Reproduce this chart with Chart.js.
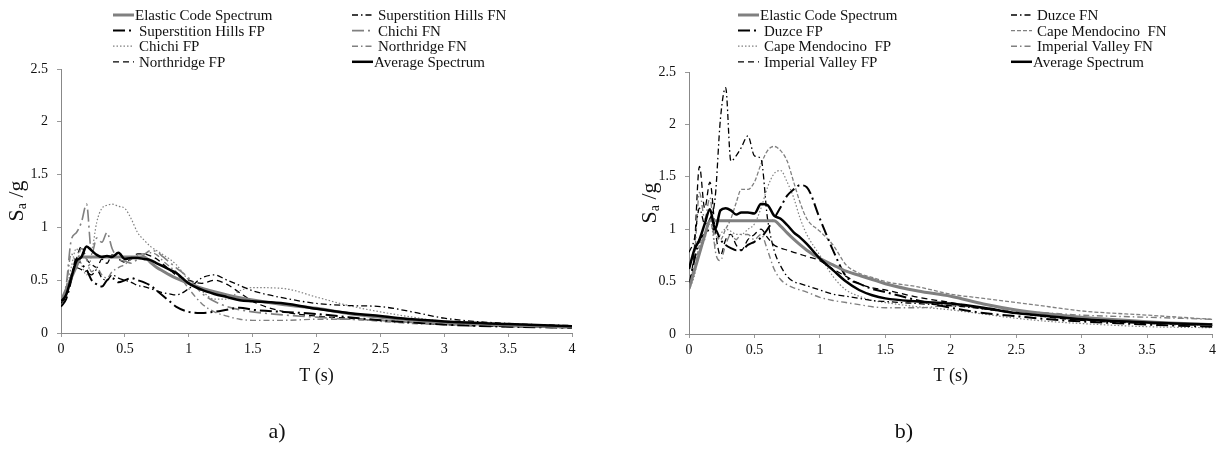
<!DOCTYPE html>
<html>
<head>
<meta charset="utf-8">
<script src="https://cdn.jsdelivr.net/npm/chart.js@4.4.1/dist/chart.umd.min.js"></script>
<style>
body { margin: 0; background: #fff; }
.wrap { position: absolute; top: 0; width: 610px; height: 451px; }
</style>
</head>
<body>
<div class="wrap" style="left:0"><canvas id="chartA" width="610" height="451"></canvas></div>
<div class="wrap" style="left:610px"><canvas id="chartB" width="610" height="451"></canvas></div>
<script>
// periods T (s), shared by every curve
var periods = [0, 0.04, 0.08, 0.12, 0.16, 0.2, 0.24, 0.28, 0.32, 0.36, 0.4, 0.45, 0.5, 0.55, 0.6, 0.65, 0.7, 0.75, 0.8, 0.85, 0.9, 1.0, 1.1, 1.2, 1.3, 1.4, 1.5, 1.75, 2.0, 2.25, 2.5, 2.75, 3.0, 3.5, 4.0]

// a) Sa/g
var elasticA = [0.30,0.41,0.52,0.63,0.72,0.72,0.72,0.72,0.72,0.72,0.72,0.72,0.72,0.72,0.72,0.72,0.67,0.62,0.585,0.55,0.52,0.47,0.425,0.39,0.36,0.334,0.312,0.267,0.234,0.185,0.15,0.124,0.104,0.076,0.058]
var supHillsFN = [0.28,0.35,0.55,0.62,0.60,0.58,0.55,0.60,0.52,0.50,0.55,0.52,0.50,0.48,0.45,0.44,0.42,0.40,0.38,0.37,0.36,0.42,0.52,0.55,0.50,0.45,0.40,0.33,0.28,0.26,0.25,0.20,0.14,0.09,0.07]
var supHillsFP = [0.25,0.32,0.50,0.70,0.65,0.60,0.50,0.46,0.44,0.50,0.52,0.48,0.50,0.52,0.50,0.48,0.45,0.40,0.35,0.30,0.25,0.20,0.19,0.20,0.22,0.24,0.22,0.20,0.18,0.15,0.12,0.10,0.08,0.06,0.05]
var chichiFN = [0.28,0.45,0.88,0.95,1.05,1.22,0.75,0.90,0.86,0.95,0.80,0.70,0.68,0.66,0.70,0.74,0.78,0.77,0.72,0.67,0.62,0.52,0.38,0.30,0.25,0.22,0.20,0.17,0.15,0.13,0.12,0.10,0.09,0.07,0.05]
var chichiFP = [0.30,0.40,0.62,0.80,0.65,0.55,0.75,1.05,1.18,1.21,1.22,1.20,1.18,1.08,0.95,0.88,0.82,0.78,0.74,0.70,0.65,0.50,0.40,0.32,0.32,0.40,0.43,0.42,0.34,0.26,0.20,0.15,0.11,0.08,0.06]
var northridgeFN = [0.30,0.42,0.75,0.68,0.80,0.70,0.58,0.62,0.55,0.52,0.58,0.62,0.65,0.70,0.74,0.75,0.76,0.74,0.68,0.63,0.58,0.42,0.28,0.20,0.16,0.13,0.12,0.12,0.13,0.13,0.11,0.09,0.08,0.06,0.05]
var northridgeFP = [0.32,0.38,0.55,0.70,0.82,0.70,0.65,0.62,0.70,0.66,0.74,0.70,0.67,0.70,0.75,0.75,0.73,0.70,0.65,0.60,0.55,0.50,0.47,0.50,0.46,0.38,0.30,0.20,0.16,0.14,0.12,0.10,0.08,0.06,0.05]
var averageA = [0.30,0.36,0.52,0.68,0.72,0.82,0.78,0.74,0.72,0.73,0.72,0.76,0.70,0.71,0.71,0.70,0.69,0.66,0.63,0.60,0.57,0.47,0.41,0.37,0.34,0.31,0.30,0.28,0.23,0.19,0.16,0.13,0.11,0.085,0.065]

// b) Sa/g
var elasticB = [0.43,0.60,0.77,0.94,1.08,1.08,1.08,1.08,1.08,1.08,1.08,1.08,1.08,1.08,1.08,1.08,1.03,0.965,0.905,0.85,0.80,0.72,0.66,0.60,0.56,0.52,0.48,0.41,0.36,0.286,0.23,0.19,0.16,0.118,0.09]
var duzceFN = [0.78,0.90,1.20,1.05,1.10,1.30,2.05,2.35,1.65,1.70,1.78,1.89,1.70,1.67,1.10,0.80,0.65,0.55,0.50,0.48,0.46,0.42,0.38,0.36,0.34,0.32,0.31,0.29,0.27,0.24,0.20,0.17,0.15,0.11,0.08]
var duzceFP = [0.45,0.70,0.90,0.95,1.00,1.00,0.90,0.85,0.82,0.80,0.80,0.85,0.88,0.92,1.00,1.10,1.21,1.32,1.38,1.42,1.40,1.10,0.80,0.55,0.48,0.43,0.40,0.32,0.25,0.20,0.17,0.14,0.12,0.09,0.07]
var capeFN = [0.42,0.60,0.85,0.95,1.05,0.95,0.90,1.00,1.10,1.25,1.38,1.38,1.45,1.62,1.75,1.79,1.75,1.65,1.45,1.25,1.10,0.98,0.85,0.66,0.58,0.54,0.50,0.45,0.38,0.34,0.30,0.26,0.22,0.18,0.14]
var capeFP = [0.42,0.55,0.80,0.90,1.10,0.85,0.95,1.00,0.98,0.95,0.95,1.00,1.05,1.20,1.40,1.53,1.56,1.45,1.30,1.10,0.95,0.75,0.55,0.42,0.36,0.32,0.30,0.26,0.23,0.19,0.15,0.12,0.10,0.07,0.06]
var imperialFN = [0.45,0.70,1.35,1.10,1.30,0.80,0.70,0.85,0.95,0.90,0.95,0.95,0.90,0.95,0.80,0.62,0.52,0.47,0.44,0.42,0.40,0.35,0.32,0.30,0.28,0.26,0.25,0.25,0.27,0.25,0.22,0.20,0.18,0.16,0.14]
var imperialFP = [0.42,0.80,1.60,1.20,1.45,1.00,0.75,0.90,0.95,0.85,0.80,0.90,0.95,1.00,0.92,0.85,0.82,0.80,0.78,0.76,0.74,0.70,0.62,0.55,0.48,0.44,0.42,0.35,0.30,0.24,0.20,0.16,0.13,0.10,0.08]
var averageB = [0.62,0.80,0.90,1.05,1.19,1.00,1.18,1.20,1.18,1.14,1.16,1.16,1.15,1.24,1.23,1.13,1.10,1.04,0.97,0.92,0.86,0.72,0.61,0.50,0.42,0.37,0.34,0.31,0.29,0.25,0.20,0.17,0.14,0.11,0.09]

var namesA = ['Elastic Code Spectrum', 'Superstition Hills FN', 'Superstition Hills FP', 'Chichi FN', 'Chichi FP', 'Northridge FN', 'Northridge FP', 'Average Spectrum']
var namesB = ['Elastic Code Spectrum', 'Duzce FN', 'Duzce FP', 'Cape Mendocino  FN', 'Cape Mendocino  FP', 'Imperial Valley FN', 'Imperial Valley FP', 'Average Spectrum']

var GRAY = '#808080'
var FONT = "'Liberation Serif', 'Times New Roman', serif"

var stylesA = [
    { color: GRAY, width: 3, dash: [] },
    { color: '#000', width: 1.3, dash: [6, 3, 1.5, 3] },
    { color: '#000', width: 2, dash: [12, 4, 2, 4] },
    { color: GRAY, width: 1.6, dash: [12, 4, 2, 4] },
    { color: GRAY, width: 1.2, dash: [1.5, 2] },
    { color: GRAY, width: 1.4, dash: [6, 3, 1.5, 3] },
    { color: '#000', width: 1.3, dash: [6, 4] },
    { color: '#000', width: 2.5, dash: [] }
]
var stylesB = [
    { color: GRAY, width: 3, dash: [] },
    { color: '#000', width: 1.3, dash: [6, 3, 1.5, 3] },
    { color: '#000', width: 2, dash: [12, 4, 2, 4] },
    { color: GRAY, width: 1.3, dash: [4, 2] },
    { color: GRAY, width: 1.2, dash: [1.5, 2] },
    { color: GRAY, width: 1.4, dash: [6, 3, 1.5, 3] },
    { color: '#000', width: 1.3, dash: [6, 4] },
    { color: '#000', width: 2.5, dash: [] }
]

// legend in two columns + axis titles + panel letter
var decorations = {
    id: 'decorations',
    afterDraw: function (chart, args, opts) {
        var ctx = chart.ctx
        var area = chart.chartArea
        ctx.save()
        ctx.fillStyle = '#111'
        ctx.textBaseline = 'middle'
        ctx.font = '15px ' + FONT
        chart.data.datasets.forEach(function (ds, i) {
            var col = i % 2, row = Math.floor(i / 2)
            var x = opts.legendX[col]
            var y = opts.legendY + row * opts.legendDy
            ctx.save()
            ctx.strokeStyle = ds.borderColor
            ctx.lineWidth = ds.borderWidth
            ctx.setLineDash(ds.borderDash)
            ctx.beginPath()
            ctx.moveTo(x, y)
            ctx.lineTo(x + 21, y)
            ctx.stroke()
            ctx.restore()
            ctx.textAlign = 'left'
            ctx.fillText(ds.label, x + (ds.borderDash.length ? 26 : 22), y + 1)
        })

        // x title
        ctx.textAlign = 'center'
        ctx.font = '18px ' + FONT
        ctx.fillText('T (s)', (area.left + area.right) / 2, opts.xTitleY)

        // panel letter
        ctx.font = '22px ' + FONT
        ctx.fillText(opts.letter, opts.letterX, opts.letterY)

        // y title S_a /g, rotated
        ctx.translate(opts.yTitleX, (area.top + area.bottom) / 2)
        ctx.rotate(-Math.PI / 2)
        ctx.font = '22px ' + FONT
        var w1 = ctx.measureText('S').width
        ctx.font = '14px ' + FONT
        var w2 = ctx.measureText('a').width
        ctx.font = '22px ' + FONT
        var w3 = ctx.measureText(' /g').width
        var x0 = -(w1 + w2 + w3) / 2
        ctx.textAlign = 'left'
        ctx.fillText('S', x0, 0)
        ctx.font = '14px ' + FONT
        ctx.fillText('a', x0 + w1, 5)
        ctx.font = '22px ' + FONT
        ctx.fillText(' /g', x0 + w1 + w2, 0)
        ctx.restore()
    }
}

var plainTick = function (value) { return String(Math.round(value * 10) / 10) }

function makeChart(id, names, series, styles, cfg) {
    var datasets = series.map(function (vals, i) {
        return {
            label: names[i],
            data: periods.map(function (t, k) { return { x: t, y: vals[k] } }),
            borderColor: styles[i].color,
            borderWidth: styles[i].width,
            borderDash: styles[i].dash,
            pointRadius: 0,
            fill: false,
            cubicInterpolationMode: 'monotone',
            order: i === series.length - 1 ? -1 : 0
        }
    })

    return new Chart(document.getElementById(id).getContext('2d'), {
        type: 'line',
        data: { datasets: datasets },
        plugins: [decorations],
        options: {
            responsive: false,
            animation: false,
            layout: { padding: { left: 0, right: cfg.padRight, top: cfg.padTop, bottom: 0 } },
            plugins: {
                legend: { display: false },
                tooltip: { enabled: false },
                decorations: cfg.deco
            },
            scales: {
                x: {
                    type: 'linear',
                    min: 0,
                    max: 4,
                    afterFit: function (scale) { scale.height = cfg.xHeight },
                    ticks: { stepSize: 0.5, color: '#111', font: { family: FONT, size: 14 }, padding: 4, maxRotation: 0, callback: plainTick },
                    grid: { display: true, drawOnChartArea: false, drawTicks: true, tickLength: 4, color: '#999' },
                    border: { display: true, color: '#888' }
                },
                y: {
                    min: 0,
                    max: 2.5,
                    afterFit: function (scale) { scale.width = cfg.yWidth },
                    ticks: { stepSize: 0.5, color: '#111', font: { family: FONT, size: 14 }, padding: 9, callback: plainTick },
                    grid: { display: true, drawOnChartArea: false, drawTicks: true, tickLength: 4, color: '#999' },
                    border: { display: true, color: '#888' }
                }
            }
        }
    })
}

makeChart('chartA', namesA,
    [elasticA, supHillsFN, supHillsFP, chichiFN, chichiFP, northridgeFN, northridgeFP, averageA],
    stylesA,
    {
        padRight: 38, padTop: 69, xHeight: 118, yWidth: 61,
        deco: { legendX: [113, 352], legendY: 15, legendDy: 15.6, xTitleY: 376, letter: 'a)', letterX: 277, letterY: 432, yTitleX: 17 }
    })

makeChart('chartB', namesB,
    [elasticB, duzceFN, duzceFP, capeFN, capeFP, imperialFN, imperialFP, averageB],
    stylesB,
    {
        padRight: 5, padTop: 72, xHeight: 117, yWidth: 79,
        deco: { legendX: [128, 401], legendY: 15, legendDy: 15.6, xTitleY: 376, letter: 'b)', letterX: 294, letterY: 432, yTitleX: 40 }
    })
</script>
</body>
</html>
